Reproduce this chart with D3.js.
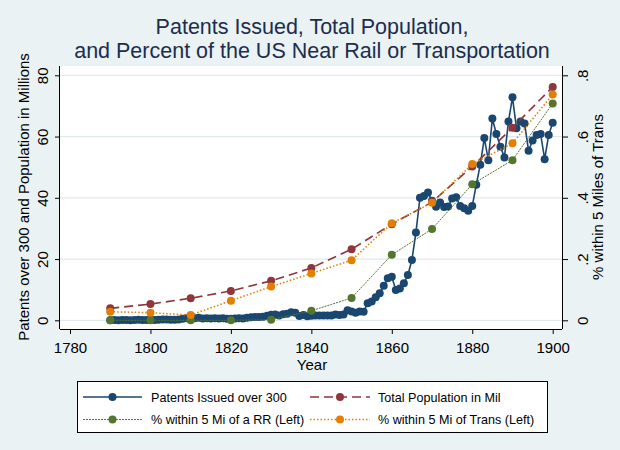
<!DOCTYPE html>
<html>
<head>
<meta charset="utf-8">
<script src="https://cdn.jsdelivr.net/npm/d3@7"></script>
<style>
  html, body { margin: 0; padding: 0; background: #eaf2f3; }
  svg { display: block; font-family: "Liberation Sans", Arial, sans-serif; }
</style>
</head>
<body>
<svg id="chart" width="620" height="450"></svg>
<script>
// ---------- data ----------
const censusYears = [1790,1800,1810,1820,1830,1840,1850,1860,1870,1880,1890,1900];
const population = [3.9,5.3,7.2,9.6,12.9,17.1,23.2,31.4,38.6,50.2,62.9,76.2];
const pctNearRR = [0,0,0,0,0.002,0.031,0.073,0.214,0.298,0.444,0.523,0.708];
const pctNearTrans = [0.028,0.025,0.017,0.064,0.110,0.153,0.196,0.317,0.384,0.510,0.578,0.737];

const patentYears = d3.range(1790, 1901);
const patents = [
  0.0,0.1,0.0,0.1,0.1,0.0,0.1,0.2,0.1,0.1,
  0.1,0.1,0.2,0.3,0.3,0.2,0.2,0.3,0.5,0.7,
  0.7,0.7,0.8,0.6,0.7,0.6,0.7,0.6,0.7,0.5,
  0.5,0.6,0.7,0.6,0.8,1.0,1.1,1.1,1.2,1.5,
  1.8,1.9,1.6,2.0,2.1,2.6,2.5,1.4,1.7,1.3,
  1.5,1.6,1.6,1.6,1.6,1.6,1.9,1.7,1.9,3.3,
  2.9,2.5,2.9,2.8,5.6,6.1,7.5,8.8,11.3,13.7,
  14.2,9.9,10.4,12.1,14.8,19.7,28.7,40.0,40.6,41.7,
  39.0,37.1,38.5,37.0,37.2,39.8,40.2,37.3,36.6,35.8,
  37.3,44.3,50.8,59.5,52.3,65.9,60.8,56.7,53.2,64.9,
  72.8,62.7,64.9,64.3,55.4,58.7,60.5,60.8,52.6,60.5,
  64.5
];

const xTicks = [1780,1800,1820,1840,1860,1880,1900];
const yLeftTicks = [0,20,40,60,80];
const yRightTicks = [0,0.2,0.4,0.6,0.8];
const yRightLabels = ["0",".2",".4",".6",".8"];

const titleLines = ["Patents Issued, Total Population,", "and Percent of the US Near Rail or Transportation"];
const legendLabels = ["Patents Issued over 300","Total Population in Mil","% within 5 Mi of a RR (Left)","% within 5 Mi of Trans (Left)"];

// ---------- layout ----------
const C = { navy:"#1a476f", maroon:"#90353b", green:"#55752f", orange:"#e37e00" };
const svg = d3.select("#chart");
const plot = { left: 60, right: 562, top: 66, bottom: 329 };

const x = d3.scaleLinear().domain([1780,1900]).range([70, 552.7]);
const yL = d3.scaleLinear().domain([0,80]).range([320.3, 75.3]);
const yR = d3.scaleLinear().domain([0,0.8]).range([320.3, 75.3]);

svg.append("rect").attr("width",620).attr("height",450).attr("fill","#eaf2f3");
svg.append("rect").attr("x",plot.left).attr("y",plot.top)
  .attr("width",plot.right-plot.left).attr("height",plot.bottom-plot.top).attr("fill","#ffffff");

// gridlines
svg.append("g").selectAll("line").data(yLeftTicks).join("line")
  .attr("x1",plot.left).attr("x2",plot.right)
  .attr("y1",d=>yL(d)).attr("y2",d=>yL(d))
  .attr("stroke","#e1e9ed").attr("stroke-width",1.2);

// title
svg.append("g").selectAll("text").data(titleLines).join("text")
  .attr("x",312).attr("y",(d,i)=>34+i*24)
  .attr("text-anchor","middle").attr("font-size",21.5).attr("fill","#1c2d4d")
  .text(d=>d);

// axes
const axisStyle = g => {
  g.select(".domain").attr("stroke","#000");
  g.selectAll(".tick line").attr("stroke","#000");
  g.selectAll(".tick text").attr("fill","#000").attr("font-size",15);
};
const gx = svg.append("g").attr("transform",`translate(0,${plot.bottom})`)
  .call(d3.axisBottom(x).tickValues(xTicks).tickFormat(d3.format("d")).tickSize(5).tickSizeOuter(0));
gx.select(".domain").attr("d",`M${plot.left},0.5H${plot.right}`);
axisStyle(gx);
gx.selectAll(".tick text").attr("y",23.7).attr("dy",0);

const gl = svg.append("g").attr("transform",`translate(${plot.left},0)`)
  .call(d3.axisLeft(yL).tickValues(yLeftTicks).tickSize(5).tickSizeOuter(0));
gl.select(".domain").attr("d",`M-0.5,${plot.top}V${plot.bottom}`);
axisStyle(gl);
gl.selectAll(".tick text").attr("transform","rotate(-90)").attr("x",0).attr("y",-11.6).attr("dy",0).attr("text-anchor","middle");

const gr = svg.append("g").attr("transform",`translate(${plot.right},0)`)
  .call(d3.axisRight(yR).tickValues(yRightTicks).tickFormat((d,i)=>yRightLabels[i]).tickSize(6).tickSizeOuter(0));
gr.select(".domain").attr("d",`M0.5,${plot.top}V${plot.bottom}`);
axisStyle(gr);
gr.selectAll(".tick text").attr("transform","rotate(-90)").attr("x",0).attr("y",26.4).attr("dy",0).attr("text-anchor","middle");

// axis titles
svg.append("text").attr("transform","translate(28.5,197) rotate(-90)")
  .attr("text-anchor","middle").attr("font-size",15).attr("fill","#000")
  .text("Patents over 300 and Population in Millions");
svg.append("text").attr("transform","translate(603,197) rotate(-90)")
  .attr("text-anchor","middle").attr("font-size",15).attr("fill","#000")
  .text("% within 5 Miles of Trans");
svg.append("text").attr("x",312).attr("y",370)
  .attr("text-anchor","middle").attr("font-size",15).attr("fill","#000").text("Year");

// series
const r = 4;
const patentData = patentYears.map((yr,i)=>({x:yr, y:patents[i]}));
svg.append("path").datum(patentData)
  .attr("d", d3.line().x(d=>x(d.x)).y(d=>yL(d.y)))
  .attr("fill","none").attr("stroke",C.navy).attr("stroke-width",1.6);
svg.append("g").selectAll("circle").data(patentData).join("circle")
  .attr("cx",d=>x(d.x)).attr("cy",d=>yL(d.y)).attr("r",r).attr("fill",C.navy);

function series(vals, scale, color, dash, width) {
  const data = censusYears.map((yr,i)=>({x:yr, y:vals[i]}));
  svg.append("path").datum(data)
    .attr("d", d3.line().x(d=>x(d.x)).y(d=>scale(d.y)))
    .attr("fill","none").attr("stroke",color).attr("stroke-width",width)
    .attr("stroke-dasharray",dash);
  svg.append("g").selectAll("circle").data(data).join("circle")
    .attr("cx",d=>x(d.x)).attr("cy",d=>scale(d.y)).attr("r",r).attr("fill",color);
}
series(population, yL, C.maroon, "9,5", 1.6);
series(pctNearRR, yR, C.green, "2,1", 1);
series(pctNearTrans, yR, C.orange, "1.5,2", 1.5);

// legend
const lg = svg.append("g");
lg.append("rect").attr("x",77.5).attr("y",381.5).attr("width",470).attr("height",51)
  .attr("fill","#ffffff").attr("stroke","#000").attr("stroke-width",1);
const legendItems = [
  {label:legendLabels[0], color:C.navy, dash:null, w:1.6, x1:83, x2:142, tx:151, y:397},
  {label:legendLabels[1], color:C.maroon, dash:"9,5", w:1.6, x1:310, x2:370, tx:378, y:397},
  {label:legendLabels[2], color:C.green, dash:"2,1", w:1, x1:83, x2:142, tx:151, y:419.5},
  {label:legendLabels[3], color:C.orange, dash:"1.5,2", w:1.5, x1:310, x2:370, tx:378, y:419.5}
];
legendItems.forEach(it=>{
  lg.append("line").attr("x1",it.x1).attr("x2",it.x2).attr("y1",it.y).attr("y2",it.y)
    .attr("stroke",it.color).attr("stroke-width",it.w).attr("stroke-dasharray",it.dash);
  lg.append("circle").attr("cx",(it.x1+it.x2)/2).attr("cy",it.y).attr("r",r).attr("fill",it.color);
  lg.append("text").attr("x",it.tx).attr("y",it.y+4.5).attr("font-size",12.6).attr("fill","#000").text(it.label);
});
</script>
</body>
</html>
